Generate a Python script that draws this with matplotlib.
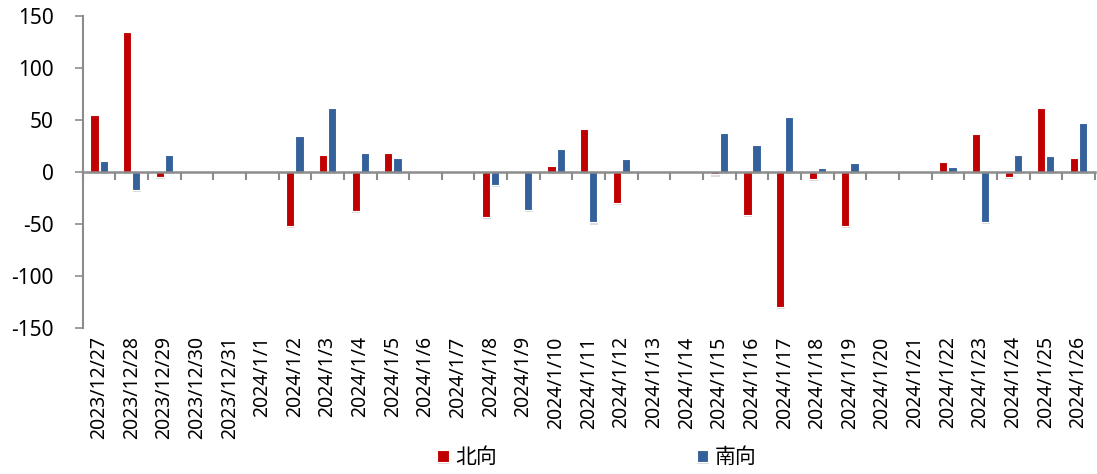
import matplotlib.pyplot as plt
import matplotlib.patheffects as pe
import numpy as np

plt.rcParams['font.family'] = ['Noto Sans', 'Noto Sans CJK SC', 'DejaVu Sans']
plt.rcParams['axes.unicode_minus'] = False

dates = ['2023/12/27', '2023/12/28', '2023/12/29', '2023/12/30', '2023/12/31',
         '2024/1/1', '2024/1/2', '2024/1/3', '2024/1/4', '2024/1/5',
         '2024/1/6', '2024/1/7', '2024/1/8', '2024/1/9', '2024/1/10',
         '2024/1/11', '2024/1/12', '2024/1/13', '2024/1/14', '2024/1/15',
         '2024/1/16', '2024/1/17', '2024/1/18', '2024/1/19', '2024/1/20',
         '2024/1/21', '2024/1/22', '2024/1/23', '2024/1/24', '2024/1/25',
         '2024/1/26']
north = [55, 134, -5, 0, 0, 0, -52, 16, -38, 18.5, 0, 0, -43, 0, 6,
         41, -30, 0, 0, -2.5, -41, -130, -7, -52, 0, 0, 9.3, 36.5, -5, 61.7, 13.7]
south = [10, -17, 16, 0, 0, 0, 34, 61, 18, 13.5, 0, 0, -13, -37, 22,
         -48.6, 12, 0, 0, 37, 25.6, 53, 4, 8, 0, 0, 4.8, -48, 16.6, 15.6, 47]

red = '#C00000'
blue = '#35619A'
grey = '#8C8C8C'

fig = plt.figure(figsize=(10.97, 4.74), dpi=100)
ax = fig.add_axes([0.0754, 0.308, 0.9226, 0.659])

x = np.arange(len(dates))
w = 0.25
shadow = [pe.SimplePatchShadow(offset=(0.5, -1.5), alpha=0.15), pe.Normal()]
b1 = ax.bar(x - 0.14, north, w, color=red, edgecolor='white', linewidth=0.8, label='北向')
b2 = ax.bar(x + 0.14, south, w, color=blue, edgecolor='white', linewidth=0.8, label='南向')
for rect in list(b1) + list(b2):
    if rect.get_height() != 0:
        rect.set_path_effects(shadow)
    else:
        rect.set_visible(False)

ax.set_xlim(-0.5, len(dates) - 0.5)
ax.set_ylim(-150, 150)
ax.set_yticks([-150, -100, -50, 0, 50, 100, 150])
ax.tick_params(axis='y', labelsize=15, length=6, width=1.2, color=grey, pad=15)

for s in ['top', 'right']:
    ax.spines[s].set_visible(False)
ax.spines['left'].set_color(grey)
ax.spines['left'].set_linewidth(1.5)
ax.spines['bottom'].set_position(('data', 0))
ax.spines['bottom'].set_color(grey)
ax.spines['bottom'].set_linewidth(1.8)
ax.spines['bottom'].set_zorder(3)
ax.set_xticks(np.arange(len(dates) + 1) - 0.5)
ax.tick_params(axis='x', length=6, width=1.5, color=grey, labelbottom=False)

sec = ax.secondary_xaxis(0.0)
sec.set_xticks(x)
sec.set_xticklabels(dates, rotation=90, fontsize=14)
sec.tick_params(length=0, pad=6)
sec.spines['bottom'].set_visible(False)

fig.legend(handles=[b1, b2], loc='center', bbox_to_anchor=(0.544, 0.034), ncol=2,
           frameon=False, fontsize=15, handlelength=0.55, handleheight=0.55,
           handletextpad=0.3, columnspacing=9.6)

fig.savefig('out.png', dpi=100)
